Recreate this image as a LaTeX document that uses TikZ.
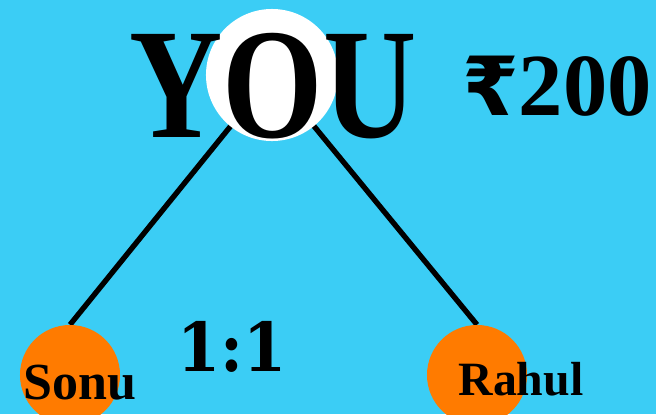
\documentclass[tikz,border=0pt]{standalone}
\usepackage{fontspec}
\setmainfont{Liberation Serif}
\newfontfamily\ratiofont{DejaVu Serif}
\newfontfamily\rupeefont{DejaVu Sans}
\usetikzlibrary{positioning,backgrounds}

\definecolor{skyblue}{HTML}{3BCDF5}
\definecolor{ballorange}{HTML}{FF7B00}

\begin{document}
\begin{tikzpicture}[
    x=0.025cm, y=-0.025cm,
    hub/.style={circle, fill=white, minimum size=3.3cm, inner sep=0pt},
    friend/.style={circle, fill=ballorange, minimum size=2.5cm, inner sep=0pt},
    link/.style={line width=3.8pt},
    bigtext/.style={anchor=base, inner sep=0pt, font=\bfseries\fontsize{#1}{#1}\selectfont}
]
\useasboundingbox (0,0) rectangle (656,414);

% People
\node[hub] (you) at (272,75) {};
\node[friend] (sonu) at (70,375) {};
\node[friend] (rahul) at (477,375) {};

% Background and links under the circles
\begin{scope}[on background layer]
\fill[skyblue] (0,0) rectangle (656,414);
\draw[link] (you.center) -- (sonu.north);
\draw[link] (you.center) -- (rahul.north);
\end{scope}

% Texts
\node[bigtext=112] (youlabel) at (273,137) {\scalebox{0.82}[1]{YOU}};
\node[bigtext=63, anchor=base east] (amount) at (652,115) {{\rupeefont\fontsize{58}{58}\selectfont ₹}200};
\node[bigtext=37] (sonulabel) at (80,399) {Sonu};
\node[bigtext=34] (rahullabel) at (521,395) {Rahul};
\node[inner sep=0pt, font=\ratiofont\bfseries\fontsize{48}{48}\selectfont] (ratio) at (232,347) {\scalebox{0.92}[1]{1:1}};

\end{tikzpicture}
\end{document}
